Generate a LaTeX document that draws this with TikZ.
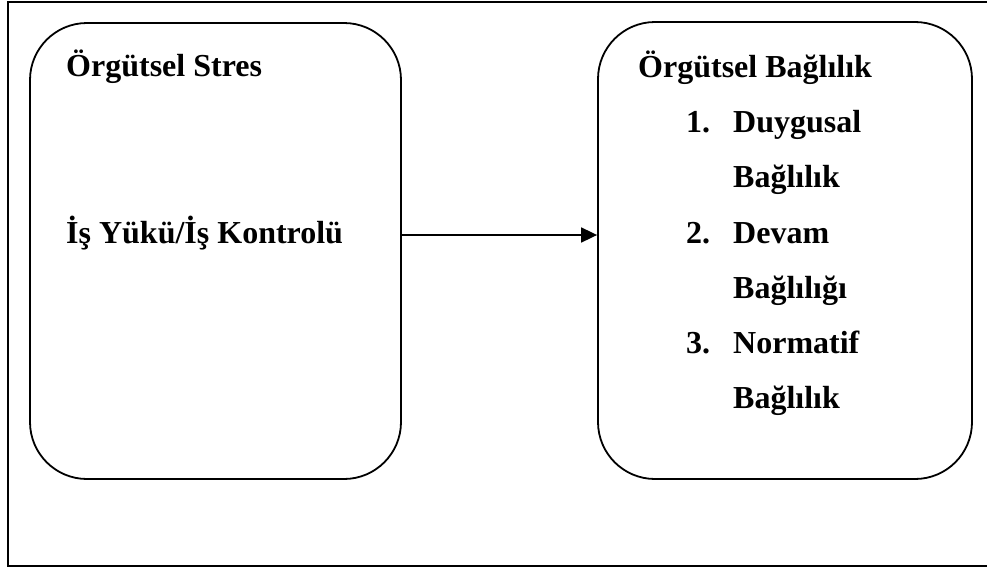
\documentclass[tikz,border=0pt]{standalone}
\usepackage{fontspec}
\setmainfont{Liberation Serif}
\usetikzlibrary{arrows.meta}
\begin{document}
\begin{tikzpicture}[x=1pt,y=-1pt,
  boxstyle/.style={draw,line width=1.8pt,rounded corners=57pt,inner sep=0pt},
  txt/.style={anchor=base west,inner sep=0pt,font=\fontsize{32}{38}\selectfont\bfseries},
  conn/.style={line width=1.8pt,-{Triangle[length=16pt,width=15pt]}}]
\clip (0,0) rectangle (987,570);
\draw[line width=1.8pt] (8,2) rectangle (1000,566);
\node[boxstyle,minimum width=371pt,minimum height=456pt] (L) at (215.5,251) {};
\node[boxstyle,minimum width=374pt,minimum height=457pt] (R) at (785,250.5) {};
\node[txt] (l1) at (66,76) {Örgütsel Stres};
\node[txt] (l2) at (66,243) {İş Yükü/İş Kontrolü};
\node[txt] (r0) at (638,77) {Örgütsel Bağlılık};
\node[txt] (n1) at (686,132) {1.};
\node[txt] (r1) at (733,132) {Duygusal};
\node[txt] (r1b) at (733,187) {Bağlılık};
\node[txt] (n2) at (686,243) {2.};
\node[txt] (r2) at (733,243) {Devam};
\node[txt] (r2b) at (733,298) {Bağlılığı};
\node[txt] (n3) at (686,353) {3.};
\node[txt] (r3) at (733,353) {Normatif};
\node[txt] (r3b) at (733,408) {Bağlılık};
\coordinate (ay) at (0,235);
\draw[conn] (L.east |- ay) -- (R.west |- ay);
\end{tikzpicture}
\end{document}
